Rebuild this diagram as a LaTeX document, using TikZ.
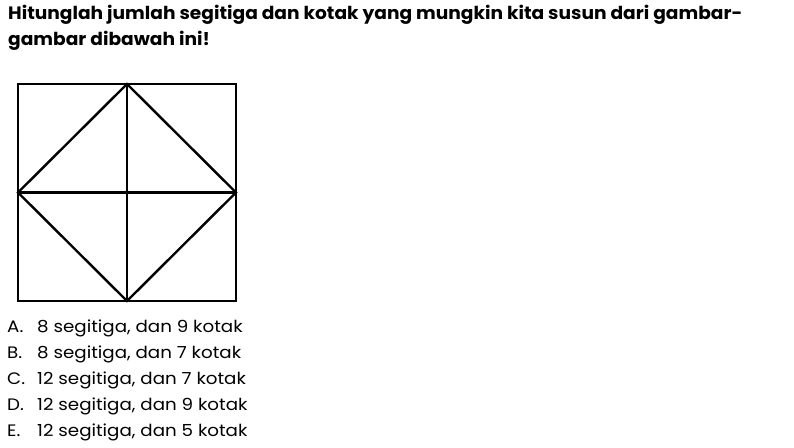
\documentclass[tikz,border=0pt]{standalone}
\usepackage{fontspec}
\setmainfont{Poppins}
\newfontfamily\titlefont[FakeStretch=1.04]{Poppins Bold}
\newfontfamily\optfont[FakeStretch=1.10]{Poppins}
\begin{document}
\begin{tikzpicture}[x=1pt,y=-1pt,
  fig/.style={line width=2.4pt,line join=miter},
  title/.style={anchor=base west,inner sep=0pt,font=\titlefont\fontsize{17.9}{20}\selectfont},
  opt/.style={anchor=base west,inner sep=0pt,font=\optfont\fontsize{16.6}{20}\selectfont}]
\useasboundingbox (0,0) rectangle (794,447);
\node[title] (t1) at (8,19) {Hitunglah jumlah segitiga dan kotak yang mungkin kita susun dari gambar-};
\node[title] (t2) at (8,45) {gambar dibawah ini!};
\coordinate (tl) at (18,84);
\coordinate (tr) at (236,84);
\coordinate (br) at (236,301);
\coordinate (bl) at (18,301);
\coordinate (tm) at (127,84);
\coordinate (bm) at (127,301);
\coordinate (lm) at (18,192.5);
\coordinate (rm) at (236,192.5);
\draw[fig] (tl) -- (tr) -- (br) -- (bl) -- cycle;
\draw[fig] (tm) -- (rm) -- (bm) -- (lm) -- cycle;
\draw[fig] (tm) -- (bm);
\draw[fig] (lm) -- (rm);
\foreach \l/\t/\y in {A/8 segitiga{,} dan 9 kotak/332,B/8 segitiga{,} dan 7 kotak/358,C/12 segitiga{,} dan 7 kotak/384,D/12 segitiga{,} dan 9 kotak/410,E/12 segitiga{,} dan 5 kotak/436}{
  \node[opt] (l\l) at (7,\y) {\l.};
  \node[opt] (o\l) at (37,\y) {\t};
}
\end{tikzpicture}
\end{document}
